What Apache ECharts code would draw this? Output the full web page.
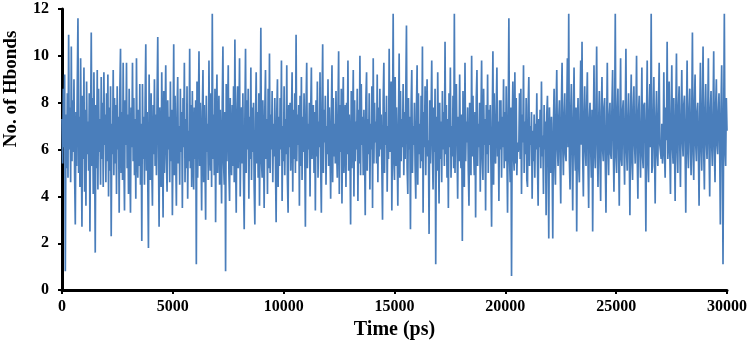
<!DOCTYPE html>
<html>
<head>
<meta charset="utf-8">
<script src="https://cdn.jsdelivr.net/npm/echarts@6/dist/echarts.min.js"></script>
<style>
  html, body { margin: 0; padding: 0; background: #fff; }
  #chart { width: 750px; height: 345px; }
</style>
</head>
<body>
<div id="chart"></div>
<script>
// sampling step of the trajectory (ps)
const timeStep = 30;
const xTicks = [0, 5000, 10000, 15000, 20000, 25000, 30000];
const yTicks = [0, 2, 4, 6, 8, 10, 12];

// number of H-bonds, one value every 30 ps (20 values = 600 ps per row)
const hbonds = [
  7.3, 5.4, 8.6, 6.1, 9.2, 0.8, 7.5, 5.2, 8.4, 4.8, 10.9, 6.0, 7.8, 4.6, 10.4, 5.5, 8.1, 5.9, 9.0, 4.9,
  2.8, 7.6, 5.3, 8.8, 11.6, 5.0, 7.4, 4.4, 9.9, 6.2, 2.7, 8.3, 5.6, 9.5, 4.2, 7.7, 3.6, 8.9, 5.8, 7.2,
  5.1, 8.4, 2.5, 7.0, 11.0, 5.3, 8.2, 4.1, 9.3, 6.0, 1.6, 7.9, 5.2, 9.4, 4.3, 8.6, 5.9, 7.3, 4.5, 9.1,
  5.6, 8.0, 4.4, 9.3, 6.2, 7.5, 4.6, 8.4, 5.5, 9.2, 4.0, 7.8, 5.1, 8.7, 2.3, 7.1, 5.8, 9.4, 4.9, 8.2,
  5.4, 7.9, 4.1, 8.7, 6.0, 7.4, 3.3, 8.5, 10.3, 5.0, 7.6, 4.7, 9.7, 5.6, 3.4, 8.1, 6.2, 9.7, 5.2, 7.5,
  4.1, 8.6, 5.7, 3.3, 7.8, 6.1, 9.7, 5.5, 8.2, 4.9, 7.3, 3.9, 9.9, 6.0, 4.8, 7.7, 5.3, 8.8, 4.5, 7.1,
  2.1, 8.8, 5.6, 7.4, 4.5, 8.0, 10.5, 5.1, 7.6, 4.6, 1.8, 9.2, 6.0, 4.7, 8.4, 5.3, 3.6, 7.9, 5.8, 9.0,
  5.3, 7.5, 4.9, 8.3, 10.8, 6.1, 2.7, 7.8, 5.4, 4.4, 9.3, 6.3, 3.1, 8.5, 5.0, 7.2, 9.6, 5.6, 4.2, 8.1,
  6.0, 7.4, 4.6, 8.9, 5.5, 7.7, 3.2, 6.4, 10.5, 4.9, 8.3, 5.7, 3.6, 7.6, 9.1, 5.4, 7.0, 4.5, 8.6, 5.9,
  7.6, 3.5, 8.2, 6.1, 9.7, 4.6, 7.3, 5.2, 8.7, 3.9, 6.8, 5.5, 10.3, 5.2, 7.9, 4.4, 8.5, 6.0, 4.3, 7.8,
  // 6000 ps
  5.6, 8.1, 1.1, 8.9, 4.8, 7.2, 10.2, 5.3, 8.0, 6.2, 3.4, 7.6, 9.4, 4.6, 7.9, 5.5, 3.0, 8.3, 5.9, 7.1,
  4.7, 9.8, 6.0, 5.1, 8.4, 4.4, 11.8, 5.6, 7.5, 4.9, 8.6, 2.9, 7.3, 9.2, 5.0, 6.7, 8.3, 4.5, 7.7, 5.8,
  3.7, 8.0, 10.4, 5.4, 4.5, 7.6, 0.8, 8.8, 5.5, 7.2, 9.6, 5.0, 3.8, 8.2, 6.1, 4.9, 7.9, 5.3, 8.7, 4.6,
  10.7, 5.8, 3.3, 7.5, 8.7, 5.2, 7.0, 9.9, 4.0, 6.6, 7.8, 5.4, 8.4, 4.7, 2.6, 7.3, 10.3, 5.0, 8.1, 6.0,
  8.6, 3.9, 7.4, 5.6, 9.5, 4.7, 7.8, 5.9, 8.0, 4.4, 2.8, 7.2, 9.3, 5.4, 7.6, 4.8, 8.4, 3.6, 6.9, 11.2,
  5.5, 4.8, 8.1, 6.3, 3.5, 7.7, 9.4, 5.6, 7.3, 4.1, 8.6, 5.2, 10.1, 5.0, 7.5, 6.0, 8.5, 4.6, 7.1, 5.7,
  8.2, 5.4, 2.9, 7.6, 9.0, 4.4, 7.4, 5.3, 8.2, 6.0, 9.8, 3.8, 7.0, 5.5, 8.7, 4.9, 7.3, 5.8, 9.6, 4.7,
  3.3, 7.9, 6.1, 8.0, 5.1, 7.2, 9.3, 4.2, 7.7, 5.6, 8.4, 5.0, 10.9, 5.5, 7.5, 6.2, 7.9, 3.6, 8.3, 5.3,
  9.1, 4.7, 7.4, 5.9, 8.4, 6.0, 2.7, 7.8, 9.7, 5.2, 7.1, 6.0, 8.0, 4.0, 7.6, 9.5, 5.6, 6.8, 7.9, 5.0,
  7.6, 3.4, 8.1, 5.7, 8.9, 4.8, 7.2, 6.1, 9.3, 5.3, 3.3, 7.9, 10.5, 5.0, 7.7, 6.3, 8.3, 4.5, 7.0, 5.8,
  // 12000 ps
  9.0, 5.3, 7.8, 6.2, 3.9, 7.4, 9.6, 4.6, 8.2, 5.7, 7.1, 5.4, 8.5, 6.0, 4.8, 7.6, 10.2, 4.1, 7.9, 5.9,
  8.6, 3.7, 7.3, 9.1, 5.0, 6.9, 7.9, 4.4, 8.0, 5.8, 9.8, 5.1, 7.5, 6.1, 2.8, 8.5, 5.2, 7.0, 9.4, 4.0,
  8.1, 5.5, 7.2, 6.0, 8.6, 3.8, 7.7, 5.4, 10.0, 4.9, 8.8, 6.2, 7.4, 4.9, 7.7, 5.9, 3.2, 8.2, 9.3, 5.1,
  7.3, 5.8, 8.4, 4.3, 7.1, 6.0, 8.7, 3.5, 9.9, 5.4, 8.0, 6.3, 7.2, 5.4, 9.2, 4.6, 7.8, 5.7, 8.6, 6.0,
  7.5, 5.2, 3.0, 8.1, 9.7, 5.0, 7.6, 6.2, 8.3, 4.2, 7.0, 5.6, 10.3, 5.9, 7.4, 8.9, 3.4, 6.8, 11.8, 5.5,
  4.7, 9.1, 5.3, 7.8, 6.0, 3.6, 7.2, 10.1, 4.8, 8.5, 5.5, 7.3, 6.1, 8.8, 4.9, 7.6, 5.6, 8.4, 11.3, 5.2,
  4.1, 8.2, 6.0, 7.4, 2.6, 7.9, 9.4, 5.0, 7.0, 6.2, 8.0, 5.3, 3.9, 7.7, 9.6, 4.5, 8.4, 5.8, 7.1, 5.2,
  8.3, 5.5, 10.4, 3.3, 7.6, 6.1, 8.7, 4.9, 7.3, 9.0, 5.7, 6.4, 2.4, 8.1, 5.4, 7.5, 9.8, 6.0, 4.3, 7.8,
  5.9, 8.6, 1.1, 7.4, 5.1, 9.3, 6.2, 3.7, 8.0, 5.6, 7.2, 4.6, 8.5, 6.0, 7.6, 5.3, 10.6, 5.8, 7.9, 4.8,
  7.3, 3.5, 8.4, 6.1, 9.5, 4.8, 7.0, 5.7, 8.3, 5.2, 11.8, 5.0, 7.7, 8.8, 6.2, 3.9, 7.4, 5.5, 9.2, 6.0,
  // 18000 ps
  5.2, 7.5, 2.1, 8.5, 6.0, 4.4, 9.7, 5.5, 7.2, 6.3, 7.8, 5.1, 3.6, 8.0, 6.1, 4.9, 10.0, 5.7, 8.3, 6.0,
  4.9, 7.6, 3.1, 8.2, 9.4, 5.3, 7.1, 6.1, 8.0, 4.2, 7.4, 9.8, 5.6, 4.7, 8.6, 6.2, 7.3, 3.4, 7.9, 5.8,
  9.2, 5.0, 7.7, 6.2, 7.9, 5.4, 2.7, 7.1, 10.2, 4.5, 8.4, 6.0, 5.4, 7.6, 9.5, 5.7, 7.2, 3.8, 8.1, 6.0,
  8.1, 4.8, 7.4, 6.1, 9.0, 5.2, 7.6, 5.5, 8.7, 6.0, 3.3, 7.3, 11.6, 5.6, 4.6, 7.8, 0.6, 7.2, 8.9, 5.7,
  5.1, 9.3, 5.4, 8.2, 4.9, 6.3, 5.9, 6.2, 8.4, 5.6, 8.6, 4.1, 7.5, 6.3, 9.6, 5.0, 7.2, 5.8, 8.2, 4.7,
  4.4, 7.8, 9.1, 5.3, 7.0, 6.2, 7.6, 3.9, 6.8, 5.5, 7.5, 4.8, 7.1, 6.0, 8.4, 5.4, 3.6, 7.3, 6.1, 7.7,
  5.2, 8.9, 5.7, 6.6, 4.1, 7.9, 6.0, 7.2, 3.2, 7.5, 8.3, 5.5, 2.2, 7.8, 6.2, 5.0, 7.4, 5.6, 2.2, 7.1,
  8.6, 5.4, 4.5, 7.7, 9.4, 6.0, 5.3, 7.3, 8.1, 5.6, 3.7, 7.9, 9.7, 6.2, 4.9, 7.4, 8.4, 5.8, 5.5, 7.6,
  9.9, 6.1, 11.8, 5.5, 4.3, 7.6, 8.8, 5.9, 3.4, 7.2, 9.5, 6.0, 5.1, 7.8, 2.5, 6.9, 8.2, 5.3, 4.6, 7.5,
  9.8, 6.2, 10.6, 5.7, 4.0, 7.4, 8.7, 6.0, 5.3, 7.9, 9.3, 5.5, 3.5, 7.3, 8.0, 6.1, 4.8, 7.7, 2.5, 6.6,
  // 24000 ps
  9.6, 5.9, 5.2, 7.5, 10.4, 6.2, 4.4, 7.1, 8.5, 5.7, 3.8, 7.6, 9.1, 6.0, 5.5, 7.8, 8.2, 5.4, 3.3, 7.0,
  9.7, 6.1, 4.9, 7.4, 8.0, 5.8, 5.6, 7.9, 9.4, 6.2, 4.2, 7.2, 11.8, 5.7, 5.0, 7.6, 8.6, 6.0, 3.6, 7.3,
  9.9, 5.6, 5.3, 7.7, 8.1, 6.1, 4.5, 7.4, 10.3, 5.9, 5.1, 7.2, 8.4, 6.0, 3.2, 7.5, 9.2, 5.5, 4.7, 7.8,
  8.7, 6.2, 5.4, 7.3, 10.0, 5.8, 3.9, 7.6, 8.3, 6.0, 4.8, 7.1, 9.5, 5.7, 5.2, 7.9, 8.0, 6.3, 2.5, 7.2,
  9.8, 5.5, 4.6, 7.6, 8.8, 6.1, 11.8, 5.0, 5.3, 7.4, 9.1, 6.0, 3.7, 7.3, 8.5, 5.8, 5.3, 7.7, 9.7, 6.2,
  6.2, 5.6, 7.1, 5.4, 6.0, 9.3, 5.9, 4.8, 7.8, 6.4, 10.6, 5.6, 6.2, 8.9, 5.9, 4.1, 7.5, 9.6, 6.1, 5.4,
  8.2, 6.3, 3.8, 7.6, 10.1, 6.0, 5.0, 7.8, 8.7, 6.2, 4.4, 7.4, 9.4, 6.4, 5.7, 7.9, 8.3, 6.1, 3.3, 7.2,
  9.8, 6.0, 5.2, 7.7, 8.6, 6.3, 4.9, 7.5, 11.0, 5.8, 4.7, 7.9, 9.2, 6.2, 5.5, 7.6, 8.0, 6.0, 3.6, 7.3,
  9.7, 6.1, 5.1, 7.8, 10.4, 5.9, 4.3, 7.6, 8.8, 6.3, 5.6, 7.4, 9.9, 6.0, 4.0, 7.7, 8.5, 6.2, 5.3, 7.5,
  10.2, 6.0, 4.6, 7.9, 9.0, 6.2, 5.8, 7.6, 8.4, 6.1, 2.8, 7.8, 9.6, 6.3, 1.1, 7.2, 11.8, 6.0, 5.3, 8.2,
  6.8
];

const chart = echarts.init(document.getElementById('chart'));

const textFont = {
  fontFamily: 'Liberation Serif',
  fontWeight: 'bold',
  color: '#000'
};

chart.setOption({
  animation: false,
  grid: {
    left: 62,
    right: 23,
    top: 9,
    bottom: 45
  },
  xAxis: {
    type: 'value',
    min: xTicks[0],
    max: xTicks[xTicks.length - 1],
    interval: 5000,
    name: 'Time (ps)',
    nameLocation: 'middle',
    nameGap: 28,
    nameTextStyle: { ...textFont, fontSize: 20 },
    axisLine: { lineStyle: { color: '#000', width: 3 } },
    axisTick: { show: true, length: 4, lineStyle: { color: '#000', width: 2 } },
    axisLabel: { ...textFont, fontSize: 16, margin: 9, formatter: v => String(v) },
    splitLine: { show: false }
  },
  yAxis: {
    type: 'value',
    min: yTicks[0],
    max: yTicks[yTicks.length - 1],
    interval: 2,
    axisLine: { show: true, lineStyle: { color: '#000', width: 3 } },
    axisTick: { show: true, length: 4, lineStyle: { color: '#000', width: 2 } },
    axisLabel: { ...textFont, fontSize: 16, margin: 13 },
    splitLine: { show: false }
  },
  // y title sits above the middle of the axis in the original
  graphic: [
    {
      type: 'text',
      x: 11,
      y: 89,
      rotation: Math.PI / 2,
      style: {
        text: 'No. of Hbonds',
        font: 'bold 19px "Liberation Serif"',
        fill: '#000',
        textAlign: 'center',
        textVerticalAlign: 'middle'
      }
    }
  ],
  series: [
    {
      type: 'line',
      data: hbonds.map((v, i) => [i * timeStep, v]),
      showSymbol: false,
      symbol: 'none',
      lineStyle: { color: '#4a7ebb', width: 1.7 }
    }
  ]
});
</script>
</body>
</html>
